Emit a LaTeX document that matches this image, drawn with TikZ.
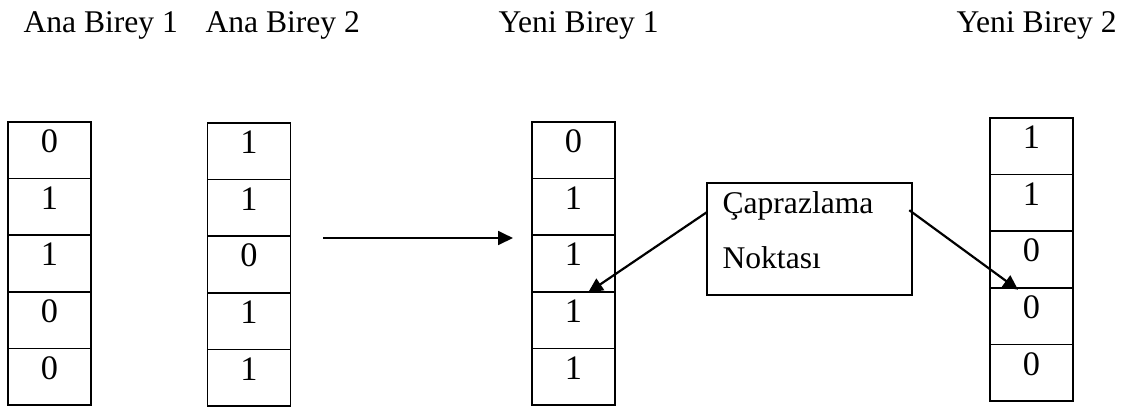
\documentclass[tikz,border=0pt]{standalone}
\usepackage{fontspec}
\setmainfont{Liberation Serif}
\usetikzlibrary{arrows.meta}
\tikzset{
  cell/.style={draw, line width=0.6pt, inner sep=0pt, outer sep=0pt, anchor=north,
    minimum width=83*0.364pt, text height=11.2pt, text depth=9.4pt,
    font=\fontsize{12.5pt}{14pt}\selectfont},
  head/.style={anchor=base west, inner sep=0pt, font=\fontsize{11.5pt}{14pt}\selectfont},
  arr/.style={line width=0.8pt, -{Triangle[length=5.4pt, width=5pt]}},
}
\begin{document}
\begin{tikzpicture}[x=0.364pt, y=-0.364pt]
\useasboundingbox (0,0) rectangle (1123,408);

% column headings
\node[head] (h1) at (23,32) {Ana Birey 1};
\node[head] (h2) at (205,32) {Ana Birey 2};
\node[head] (h3) at (498,32) {Yeni Birey 1};
\node[head] (h4) at (956,32) {Yeni Birey 2};

% parent 1
\node[cell] (a1) at (49.5,122) {0};
\node[cell] (a2) at (a1.south) {1};
\node[cell] (a3) at (a2.south) {1};
\node[cell] (a4) at (a3.south) {0};
\node[cell] (a5) at (a4.south) {0};

% parent 2
\node[cell] (b1) at (249,123) {1};
\node[cell] (b2) at (b1.south) {1};
\node[cell] (b3) at (b2.south) {0};
\node[cell] (b4) at (b3.south) {1};
\node[cell] (b5) at (b4.south) {1};

% child 1
\node[cell] (c1) at (573.5,122) {0};
\node[cell] (c2) at (c1.south) {1};
\node[cell] (c3) at (c2.south) {1};
\node[cell] (c4) at (c3.south) {1};
\node[cell] (c5) at (c4.south) {1};

% child 2
\node[cell] (d1) at (1031.5,118) {1};
\node[cell] (d2) at (d1.south) {1};
\node[cell] (d3) at (d2.south) {0};
\node[cell] (d4) at (d3.south) {0};
\node[cell] (d5) at (d4.south) {0};

% crossover point label
\node[draw, line width=0.6pt, inner sep=0pt, outer sep=0pt, anchor=north west,
  minimum width=205*0.364pt, minimum height=112*0.364pt] (cp) at (707,183) {};
\node[head] (cpa) at (722,213) {Çaprazlama};
\node[head] (cpb) at (722,268) {Noktası};

% crossover arrow
\coordinate (s) at (323,238);
\coordinate (t) at (513,238);
\draw[arr] (s) -- (t);

% pointers to the cut positions
\draw[arr] ([yshift=9.8pt]cp.west) -- ([xshift=5.3pt,yshift=-0.3pt]c4.north);
\draw[arr] ([xshift=-1pt,yshift=10.5pt]cp.east) -- ([xshift=-4.9pt,yshift=-0.7pt]d4.north);
\end{tikzpicture}
\end{document}
